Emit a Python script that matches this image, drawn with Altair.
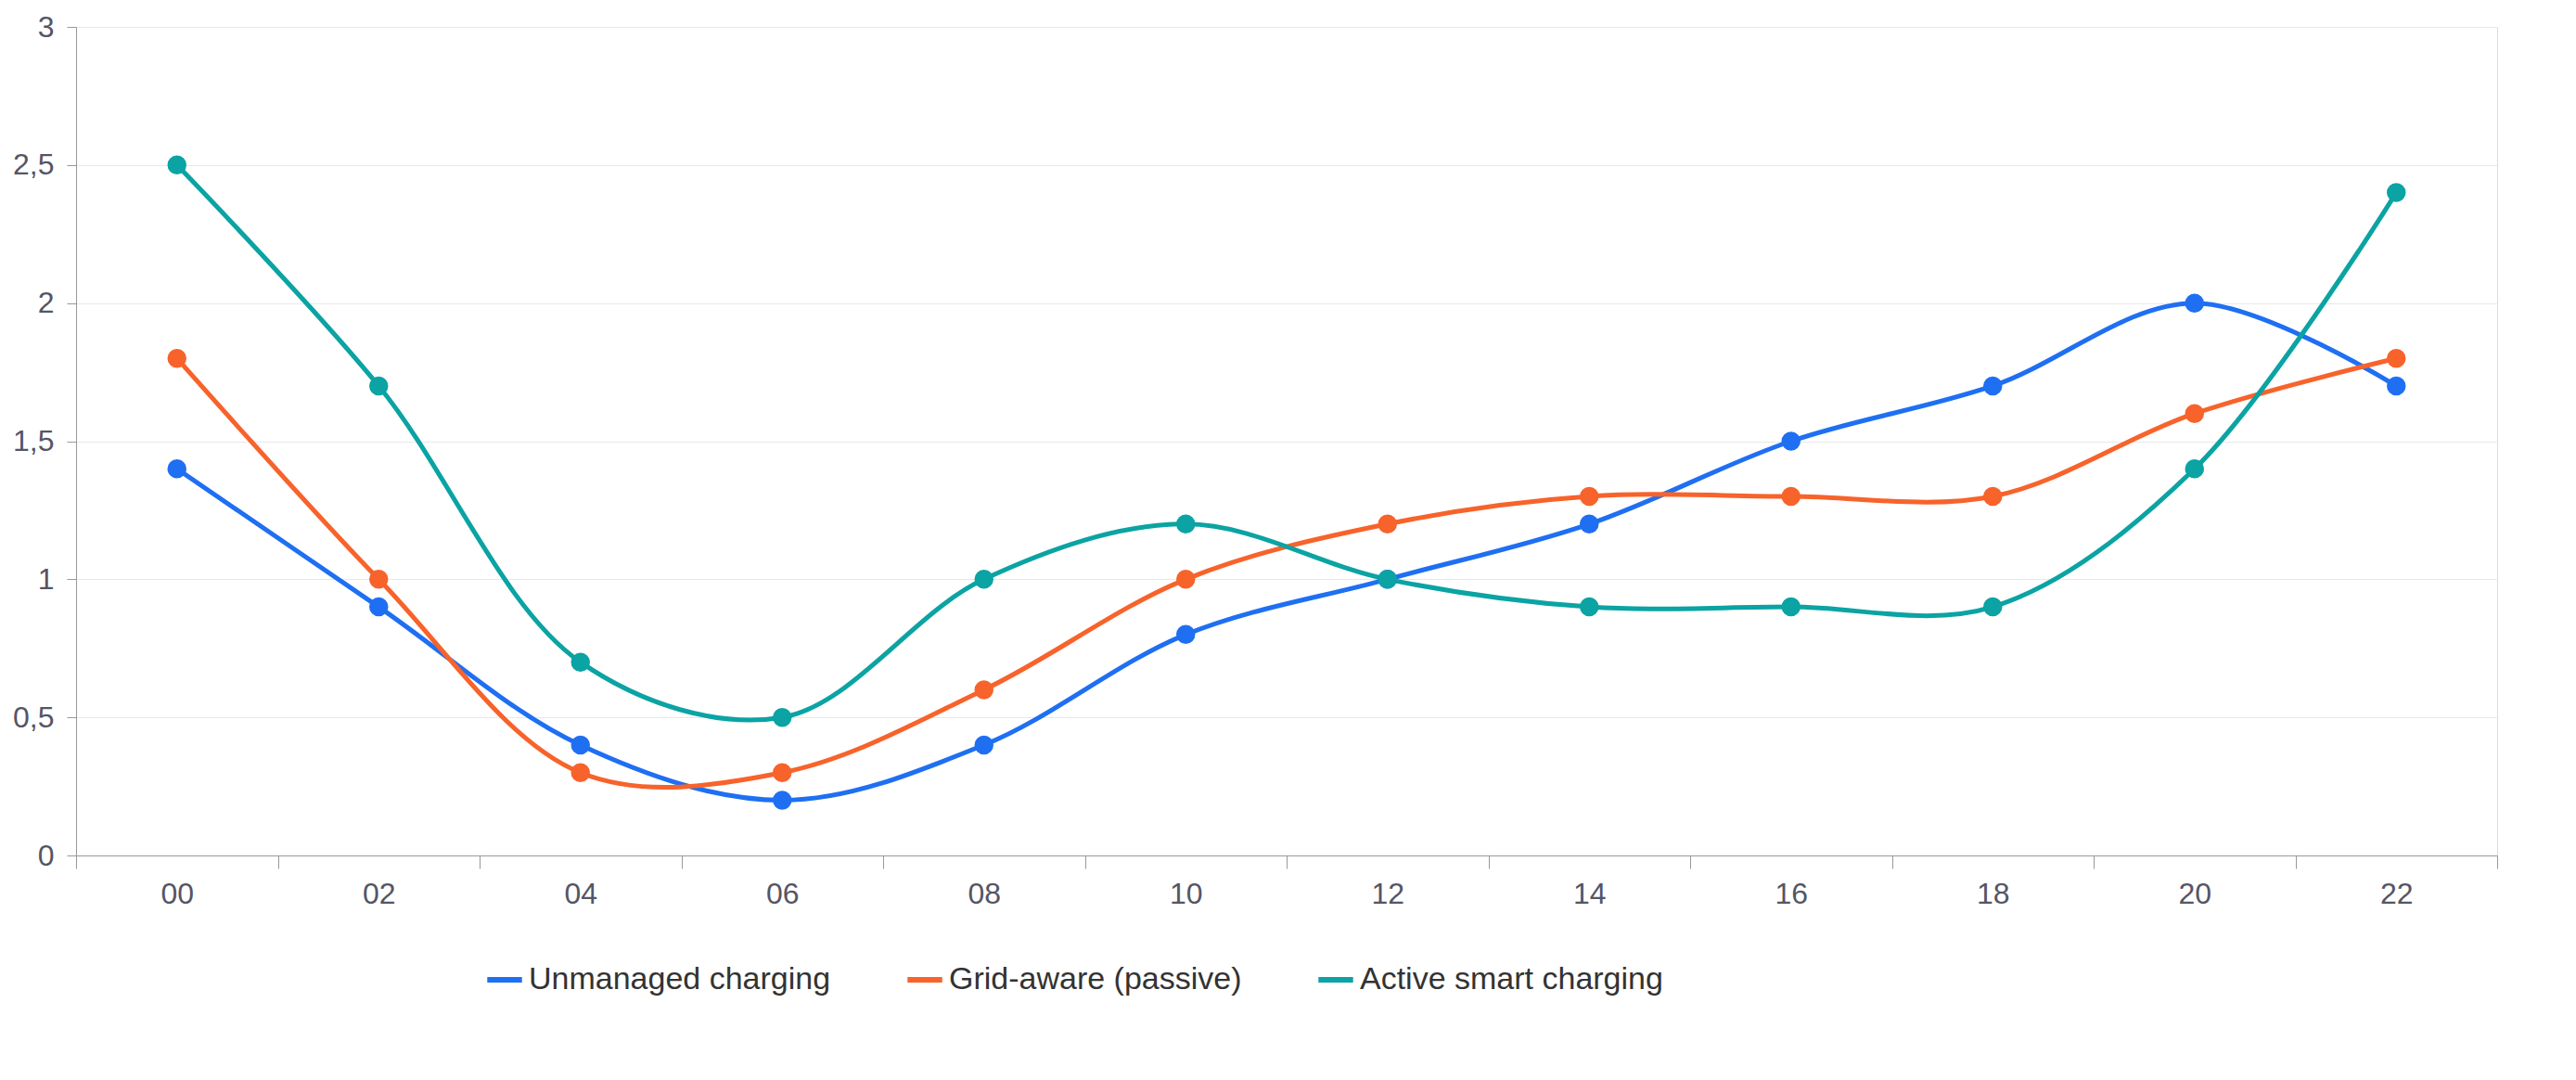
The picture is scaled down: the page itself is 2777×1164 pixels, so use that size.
import pandas as pd
import altair as alt

hours = ["00", "02", "04", "06", "08", "10", "12", "14", "16", "18", "20", "22"]
unmanaged = [1.4, 0.9, 0.4, 0.2, 0.4, 0.8, 1.0, 1.2, 1.5, 1.7, 2.0, 1.7]
grid_aware = [1.8, 1.0, 0.3, 0.3, 0.6, 1.0, 1.2, 1.3, 1.3, 1.3, 1.6, 1.8]
active = [2.5, 1.7, 0.7, 0.5, 1.0, 1.2, 1.0, 0.9, 0.9, 0.9, 1.4, 2.4]

series_names = ["Unmanaged charging", "Grid-aware (passive)", "Active smart charging"]
series_colors = ["#1f6ff2", "#f7632b", "#0ba3a3"]

rows = []
for name, vals in zip(series_names, [unmanaged, grid_aware, active]):
    for h, v in zip(hours, vals):
        rows.append({"hour": h, "value": v, "series": name})
df = pd.DataFrame(rows)

color = alt.Color(
    "series:N",
    scale=alt.Scale(domain=series_names, range=series_colors),
    sort=series_names,
    legend=alt.Legend(
        orient="none", legendX=440, legendY=1005, direction="horizontal", title=None,
        symbolType="stroke", symbolStrokeWidth=6, symbolSize=1400,
        labelFontSize=34, labelColor="#333333", columnPadding=70, labelLimit=600,
    ),
)

x = alt.X(
    "hour:O", sort=hours, title=None,
    scale=alt.Scale(paddingInner=0, paddingOuter=0),
    axis=alt.Axis(labelAngle=0, labelFontSize=32, labelColor="#555566",
                  tickBand="extent", tickSize=14, tickColor="#999999",
                  domainColor="#999999", labelPadding=12),
)
y = alt.Y(
    "value:Q", title=None,
    scale=alt.Scale(domain=[0, 3]),
    axis=alt.Axis(values=[0, 0.5, 1, 1.5, 2, 2.5, 3], labelFontSize=32,
                  labelColor="#555566", labelExpr="replace(format(datum.value, ''), '.', ',')",
                  gridColor="#e8e8e8", tickColor="#999999", domainColor="#999999",
                  tickSize=10, labelPadding=14),
)

base = alt.Chart(df).encode(x=x, y=y, color=color)
lines = base.mark_line(interpolate="catmull-rom", strokeWidth=5)
points = base.mark_point(filled=True, size=420, opacity=1)

chart = (lines + points).properties(width=2610, height=893).configure_view(
    stroke=None
).configure(font="Liberation Sans")

chart.save("out.html", embed_options={"renderer": "svg", "actions": False})
